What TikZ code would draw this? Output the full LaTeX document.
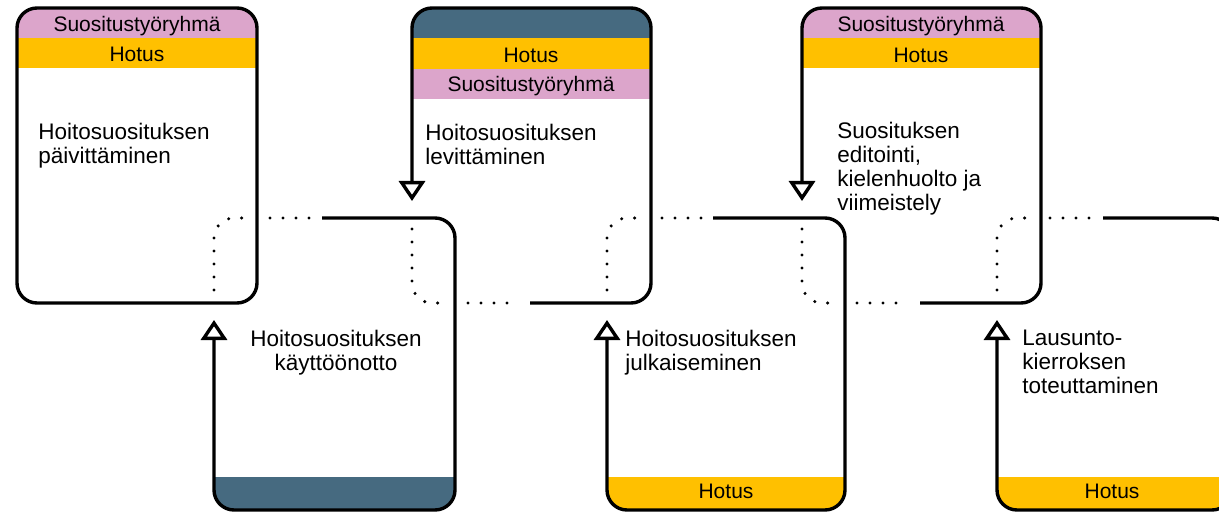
\documentclass[tikz,border=0pt]{standalone}
\usepackage{fontspec}
\setmainfont{Liberation Sans}
\usetikzlibrary{arrows.meta}
\definecolor{bandpink}{HTML}{DCA5CB}
\definecolor{bandgold}{HTML}{FFC000}
\definecolor{bandslate}{HTML}{466A80}
\tikzset{
    outline/.style={line width=1.7pt, rounded corners=10pt},
    dots/.style={line width=1.7pt, line cap=round, dash pattern=on 0pt off 6.5pt, rounded corners=10pt},
    flow/.style={outline, -{Triangle[fill=white, width=13pt, length=10pt]}},
    bandtext/.style={font=\fontsize{10.5}{12}\selectfont, anchor=base, inner sep=0pt},
    steptext/.style={font=\fontsize{11.25}{12}\selectfont, align=left, anchor=north west, inner sep=0pt},
}
\begin{document}
\begin{tikzpicture}[x=0.5pt, y=-0.5pt]
    \useasboundingbox (0,0) rectangle (1219,513);
    \clip (0,0) rectangle (1219,513);
    % Colour bands, clipped to the rounded boxes
    \begin{scope}
        \clip[rounded corners=10pt] (17,8) rectangle (257,303);
        \fill[bandpink] (17,8) rectangle (257,38);
        \fill[bandgold] (17,38) rectangle (257,68);
    \end{scope}
    \begin{scope}
        \clip[rounded corners=10pt] (412,8) rectangle (651,303);
        \fill[bandslate] (412,8) rectangle (651,38);
        \fill[bandgold] (412,38) rectangle (651,69);
        \fill[bandpink] (412,69) rectangle (651,99);
    \end{scope}
    \begin{scope}
        \clip[rounded corners=10pt] (802,8) rectangle (1041,303);
        \fill[bandpink] (802,8) rectangle (1041,38);
        \fill[bandgold] (802,38) rectangle (1041,68);
    \end{scope}
    \begin{scope}
        \clip[rounded corners=10pt] (214,218) rectangle (455,510);
        \fill[bandslate] (214,477) rectangle (455,510);
    \end{scope}
    \begin{scope}
        \clip[rounded corners=10pt] (607,218) rectangle (845,510);
        \fill[bandgold] (607,477) rectangle (845,510);
    \end{scope}
    \begin{scope}
        \clip[rounded corners=10pt] (997,218) rectangle (1232,510);
        \fill[bandgold] (997,477) rectangle (1232,510);
    \end{scope}
    % First box, closed
    \draw[outline] (17,8) rectangle (257,303);
    % Solid outlines ending in arrows
    \draw[flow] (322,218) -- (455,218) -- (455,510) -- (214,510) -- (214,320);
    \draw[flow] (530,303) -- (651,303) -- (651,8) -- (412,8) -- (412,201);
    \draw[flow] (713,218) -- (845,218) -- (845,510) -- (607,510) -- (607,320);
    \draw[flow] (920,303) -- (1041,303) -- (1041,8) -- (802,8) -- (802,201);
    \draw[flow] (1103,218) -- (1232,218) -- (1232,510) -- (997,510) -- (997,320);
    % Dotted corners where the boxes overlap
    \draw[dots] (214,290) -- (214,218) -- (247,218);
    \draw[dots] (270,218) -- (310,218);
    \draw[dots] (412,229) -- (412,303) -- (445,303);
    \draw[dots] (468,303) -- (520,303);
    \draw[dots] (607,290) -- (607,218) -- (640,218);
    \draw[dots] (662,218) -- (702,218);
    \draw[dots] (802,229) -- (802,303) -- (835,303);
    \draw[dots] (857,303) -- (908,303);
    \draw[dots] (997,290) -- (997,218) -- (1030,218);
    \draw[dots] (1050,218) -- (1093,218);
    % Band labels
    \node[bandtext] (group1) at (137,32) {Suositustyöryhmä};
    \node[bandtext] (hotus1) at (137,62) {Hotus};
    \node[bandtext] (hotus2) at (531,63) {Hotus};
    \node[bandtext] (group2) at (531,92) {Suositustyöryhmä};
    \node[bandtext] (group3) at (921,32) {Suositustyöryhmä};
    \node[bandtext] (hotus3) at (921,63) {Hotus};
    \node[bandtext] (hotus4) at (726,498) {Hotus};
    \node[bandtext] (hotus5) at (1112,498) {Hotus};
    % Step labels
    \node[steptext] (update) at (38,123) {Hoitosuosituksen\\päivittäminen};
    \node[steptext] (spread) at (425,124) {Hoitosuosituksen\\levittäminen};
    \node[steptext] (edit) at (837,122) {Suosituksen\\editointi,\\kielenhuolto ja\\viimeistely};
    \node[steptext, align=center, anchor=north] (adopt) at (336,330) {Hoitosuosituksen\\käyttöönotto};
    \node[steptext] (publish) at (625,330) {Hoitosuosituksen\\julkaiseminen};
    \node[steptext] (review) at (1022,330) {Lausunto-\\kierroksen\\toteuttaminen};
\end{tikzpicture}
\end{document}
